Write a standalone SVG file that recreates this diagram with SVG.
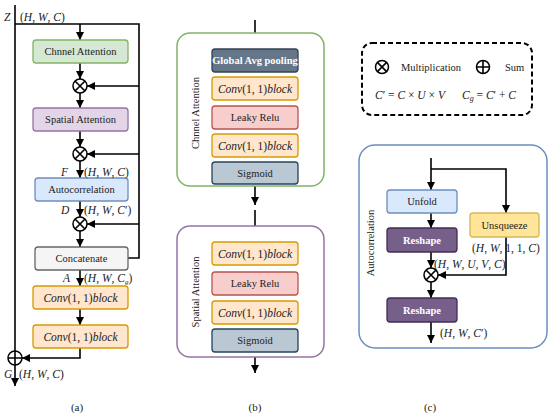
<svg xmlns="http://www.w3.org/2000/svg" width="550" height="418" viewBox="0 0 550 418" font-family="'Liberation Serif', 'DejaVu Serif', serif">
<defs>
<marker id="ah" viewBox="0 0 8 8" refX="8" refY="4" markerWidth="8" markerHeight="8" markerUnits="userSpaceOnUse" orient="auto">
<path d="M0,0 L8,4 L0,8 z" fill="#000"/>
</marker>
<style>
text{font-family:'Liberation Serif','DejaVu Serif',serif;fill:#222}
.lbl{font-size:10.5px;text-anchor:middle;dominant-baseline:central}
.wb{fill:#fff;font-weight:bold}
.m{font-size:11.5px;font-style:italic}
.u{font-style:normal}
.ln{stroke:#000;stroke-width:1.6;fill:none}
.ar{stroke:#000;stroke-width:1.6;fill:none;marker-end:url(#ah)}
.box{stroke-width:1.3}
.green{fill:#d5e8d4;stroke:#82b366}
.purple{fill:#e1d5e7;stroke:#9673a6}
.blue{fill:#dae8fc;stroke:#6c8ebf}
.gray{fill:#f5f5f5;stroke:#666}
.orange{fill:#ffe6cc;stroke:#d79b00}
.pink{fill:#f8cecc;stroke:#b85450}
.slate{fill:#647687;stroke:#314354}
.sig{fill:#bac8d3;stroke:#23445d}
.resh{fill:#76608a;stroke:#432d57}
.yel{fill:#ffe599;stroke:#d6b656}
.op{fill:#fff;stroke:#000;stroke-width:1.5}
.cap{font-size:11px;text-anchor:middle}
</style>
</defs>

<!-- connectors -->
<g id="connectors">
<path class="ln" d="M15,5 V351"/>
<path class="ln" d="M15,24 H139 V258 H128"/>
<path class="ar" d="M80,24 V40"/>
<path class="ar" d="M80,63 V79"/>
<path class="ar" d="M139,86 H87"/>
<path class="ar" d="M80,93 V108"/>
<path class="ar" d="M80,131 V147"/>
<path class="ar" d="M139,154 H87"/>
<path class="ar" d="M80,161 V178"/>
<path class="ar" d="M80,201 V217"/>
<path class="ar" d="M139,224 H87"/>
<path class="ar" d="M80,231 V247"/>
<path class="ar" d="M80,270 V286"/>
<path class="ar" d="M80,309 V325"/>
<path class="ar" d="M80,348 V358 H22"/>
<path class="ar" d="M15,365 V386"/>
<path class="ar" d="M255,20 V49"/>
<path class="ln" d="M255,72 V77 M255,100 V106 M255,129 V134 M255,157 V162"/>
<path class="ar" d="M255,186 V205"/>
<path class="ar" d="M255,210 V242"/>
<path class="ln" d="M255,265 V272 M255,295 V301 M255,324 V329"/>
<path class="ar" d="M255,357 V373"/>
<path class="ar" d="M431,158 V190"/>
<path class="ar" d="M431,169 H506 V213"/>
<path class="ar" d="M431,213 V228"/>
<path class="ar" d="M431,252 V268"/>
<path class="ar" d="M506,237 V275 H438"/>
<path class="ar" d="M431,282 V298"/>
<path class="ar" d="M431,322 V343"/>
</g>

<!-- panel a nodes -->
<g id="chnnel-attention-a"><rect class="box green" x="33" y="40" width="95" height="23" rx="3"/><text class="lbl" x="80.5" y="51.5">Chnnel Attention</text></g>
<g id="mul-a1"><circle class="op" cx="80" cy="86" r="7"/><path class="ln" d="M75,81 L85,91 M85,81 L75,91" stroke-width="1.3"/></g>
<g id="spatial-attention-a"><rect class="box purple" x="33" y="108" width="95" height="23" rx="3"/><text class="lbl" x="80.5" y="119.5">Spatial Attention</text></g>
<g id="mul-a2"><circle class="op" cx="80" cy="154" r="7"/><path class="ln" d="M75,149 L85,159 M85,149 L75,159" stroke-width="1.3"/></g>
<g id="autocorrelation-a"><rect class="box blue" x="35" y="178" width="93" height="23" rx="3"/><text class="lbl" x="81.5" y="189.5">Autocorrelation</text></g>
<g id="mul-a3"><circle class="op" cx="80" cy="224" r="7"/><path class="ln" d="M75,219 L85,229 M85,219 L75,229" stroke-width="1.3"/></g>
<g id="concatenate"><rect class="box gray" x="35" y="247" width="93" height="23" rx="3"/><text class="lbl" x="81.5" y="258.5">Concatenate</text></g>
<g id="conv-a1"><rect class="box orange" x="33" y="286" width="95" height="23" rx="3"/><text class="lbl m" x="80.5" y="297.5">Conv<tspan class="u">(1, 1)</tspan>block</text></g>
<g id="conv-a2"><rect class="box orange" x="33" y="325" width="95" height="23" rx="3"/><text class="lbl m" x="80.5" y="336.5">Conv<tspan class="u">(1, 1)</tspan>block</text></g>
<g id="sum-a"><circle class="op" cx="15" cy="358" r="7"/><path class="ln" d="M8,358 H22 M15,351 V365" stroke-width="1.3"/></g>

<g id="labels-a">
<text class="m" x="4" y="21">Z</text>
<text class="m" x="20" y="21"><tspan class="u">(</tspan>H<tspan class="u">, </tspan>W<tspan class="u">, </tspan>C<tspan class="u">)</tspan></text>
<text class="m" x="61" y="176">F</text>
<text class="m" x="84" y="176"><tspan class="u">(</tspan>H<tspan class="u">, </tspan>W<tspan class="u">, </tspan>C<tspan class="u">)</tspan></text>
<text class="m" x="61" y="214">D</text>
<text class="m" x="84" y="214"><tspan class="u">(</tspan>H<tspan class="u">, </tspan>W<tspan class="u">, </tspan>C<tspan class="u">′)</tspan></text>
<text class="m" x="63" y="282">A</text>
<text class="m" x="84" y="282"><tspan class="u">(</tspan>H<tspan class="u">, </tspan>W<tspan class="u">, </tspan>C<tspan font-size="7" dy="2">g</tspan><tspan class="u" dy="-2">)</tspan></text>
<text class="m" x="4" y="378">G</text>
<text class="m" x="19" y="378"><tspan class="u">(</tspan>H<tspan class="u">, </tspan>W<tspan class="u">, </tspan>C<tspan class="u">)</tspan></text>
<text class="cap" x="77" y="411">(a)</text>
</g>

<!-- panel b -->
<g id="channel-attention-b">
<rect x="177" y="33" width="147" height="153" rx="13" fill="#fff" stroke="#82b366" stroke-width="1.5"/>
<text class="lbl" x="0" y="0" transform="translate(195,113) rotate(-90)" font-size="11">Chnnel Attention</text>
</g>
<g id="gap"><rect class="box slate" x="212" y="49" width="86" height="23" rx="3"/><text class="lbl wb" x="255" y="60.5">Global Avg pooling</text></g>
<g id="conv-b1"><rect class="box orange" x="212" y="77" width="86" height="23" rx="3"/><text class="lbl m" x="255" y="88.5">Conv<tspan class="u">(1, 1)</tspan>block</text></g>
<g id="relu-b1"><rect class="box pink" x="212" y="106" width="86" height="23" rx="3"/><text class="lbl" x="255" y="117.5">Leaky Relu</text></g>
<g id="conv-b2"><rect class="box orange" x="212" y="134" width="86" height="23" rx="3"/><text class="lbl m" x="255" y="145.5">Conv<tspan class="u">(1, 1)</tspan>block</text></g>
<g id="sigmoid-b1"><rect class="box sig" x="212" y="162" width="86" height="22" rx="3"/><text class="lbl" x="255" y="173">Sigmoid</text></g>

<g id="spatial-attention-b">
<rect x="177" y="226" width="147" height="131" rx="13" fill="#fff" stroke="#9673a6" stroke-width="1.5"/>
<text class="lbl" x="0" y="0" transform="translate(195,292) rotate(-90)" font-size="11">Spatial Attention</text>
</g>
<g id="conv-b3"><rect class="box orange" x="212" y="242" width="86" height="23" rx="3"/><text class="lbl m" x="255" y="253.5">Conv<tspan class="u">(1, 1)</tspan>block</text></g>
<g id="relu-b2"><rect class="box pink" x="212" y="272" width="86" height="23" rx="3"/><text class="lbl" x="255" y="283.5">Leaky Relu</text></g>
<g id="conv-b4"><rect class="box orange" x="212" y="301" width="86" height="23" rx="3"/><text class="lbl m" x="255" y="312.5">Conv<tspan class="u">(1, 1)</tspan>block</text></g>
<g id="sigmoid-b2"><rect class="box sig" x="212" y="329" width="86" height="23" rx="3"/><text class="lbl" x="255" y="340.5">Sigmoid</text></g>
<text class="cap" x="255" y="411">(b)</text>

<!-- legend -->
<g id="legend">
<rect x="362" y="43" width="170" height="72" rx="10" fill="none" stroke="#000" stroke-width="2" stroke-dasharray="5,3"/>
<circle class="op" cx="382" cy="67" r="6.5"/><path class="ln" d="M377.4,62.4 L386.6,71.6 M386.6,62.4 L377.4,71.6" stroke-width="1.2"/>
<text x="401" y="70.5" font-size="10.5">Multiplication</text>
<circle class="op" cx="483" cy="67" r="6.5"/><path class="ln" d="M476.5,67 H489.5 M483,60.5 V73.5" stroke-width="1.2"/>
<text x="505" y="70.5" font-size="10.5">Sum</text>
<text class="m" x="375" y="99" font-size="13">C<tspan class="u">′ = </tspan>C<tspan class="u"> × </tspan>U<tspan class="u"> × </tspan>V</text>
<text class="m" x="462" y="99" font-size="13">C<tspan font-size="8" dy="2">g</tspan><tspan class="u" dy="-2"> = </tspan>C<tspan class="u">′ + </tspan>C</text>
</g>

<!-- panel c -->
<g id="autocorrelation-c">
<rect x="359" y="145" width="188" height="203" rx="16" fill="none" stroke="#6c8ebf" stroke-width="1.5"/>
<text class="lbl" x="0" y="0" transform="translate(370,243) rotate(-90)" font-size="11">Autocorrelation</text>
</g>
<g id="unfold"><rect class="box blue" x="387" y="190" width="70" height="23" rx="3"/><text class="lbl" x="422" y="201.5">Unfold</text></g>
<g id="reshape1"><rect class="box resh" x="387" y="228" width="70" height="24" rx="3"/><text class="lbl wb" x="422" y="240">Reshape</text></g>
<g id="unsqueeze"><rect class="box yel" x="470" y="213" width="69" height="24" rx="3"/><text class="lbl" x="504.5" y="225">Unsqueeze</text></g>
<g id="mul-c"><circle class="op" cx="431" cy="275" r="7"/><path class="ln" d="M426,270 L436,280 M436,270 L426,280" stroke-width="1.3"/></g>
<g id="reshape2"><rect class="box resh" x="387" y="298" width="70" height="24" rx="3"/><text class="lbl wb" x="422" y="310">Reshape</text></g>
<g id="labels-c">
<text class="m" x="472" y="252"><tspan class="u">(</tspan>H<tspan class="u">, </tspan>W<tspan class="u">, 1, 1, </tspan>C<tspan class="u">)</tspan></text>
<text class="m" x="434" y="268"><tspan class="u">(</tspan>H<tspan class="u">, </tspan>W<tspan class="u">, </tspan>U<tspan class="u">, </tspan>V<tspan class="u">, </tspan>C<tspan class="u">)</tspan></text>
<text class="m" x="440" y="337"><tspan class="u">(</tspan>H<tspan class="u">, </tspan>W<tspan class="u">, </tspan>C<tspan class="u">′)</tspan></text>
</g>
<text class="cap" x="430" y="411">(c)</text>
</svg>
